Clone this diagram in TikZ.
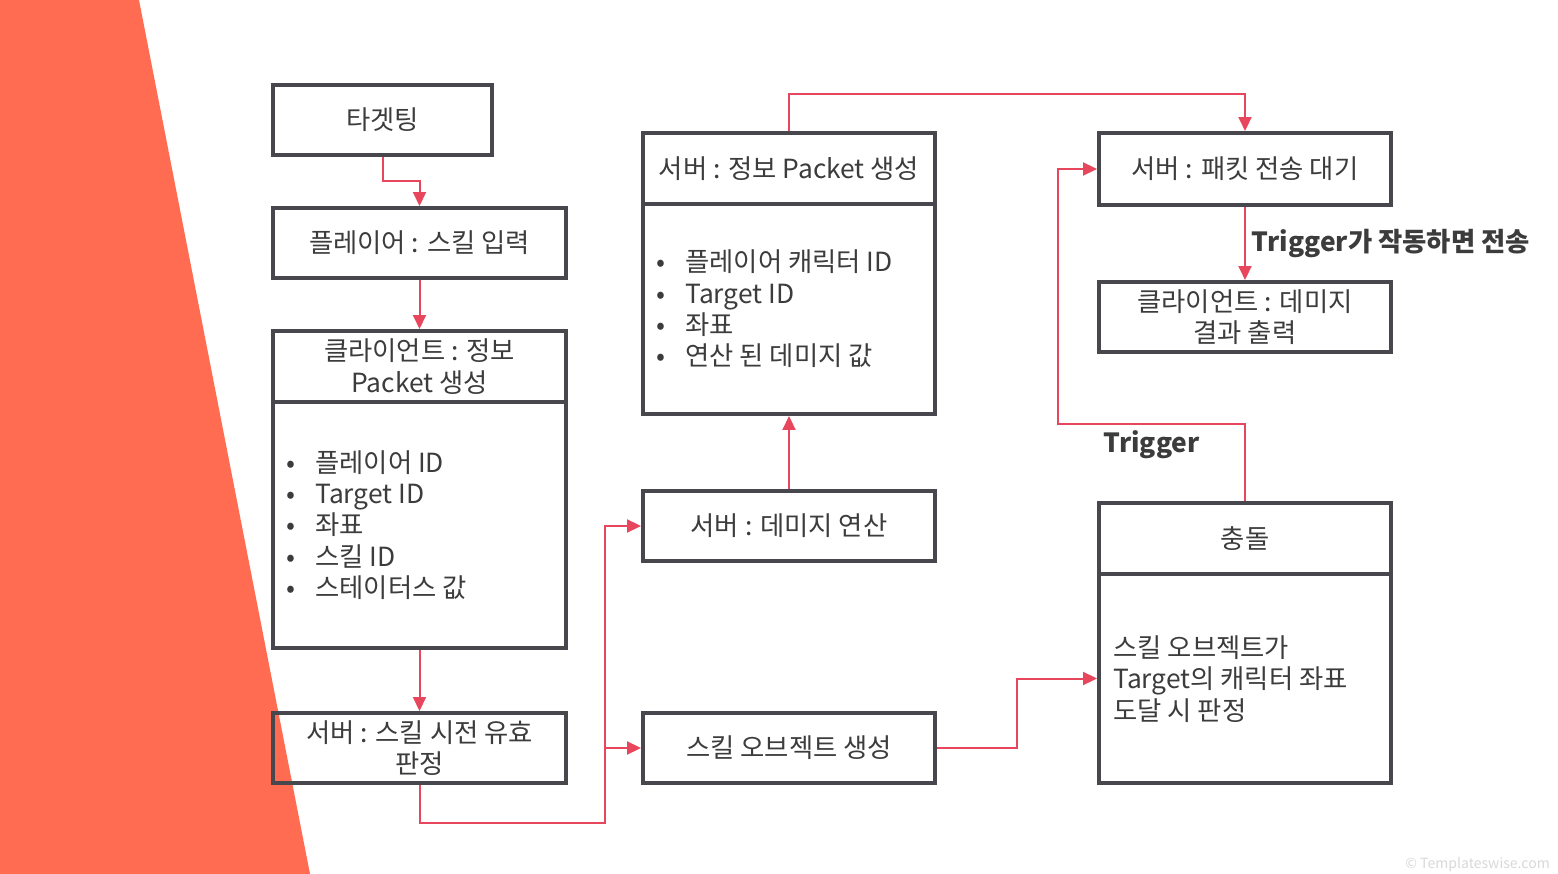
\documentclass[tikz,border=0pt]{standalone}
\usepackage{fontspec}
\setmainfont{Noto Sans CJK KR}
\usetikzlibrary{arrows.meta,positioning}

\definecolor{slideorange}{HTML}{FF6C52}
\definecolor{flowred}{HTML}{E8465C}
\definecolor{boxgray}{HTML}{47474D}
\definecolor{inkgray}{HTML}{3C3C3C}

\newcommand{\bul}{\makebox[1.1em][l]{\textbullet}}

\begin{document}
\begin{tikzpicture}[
    x=0.02cm, y=-0.02cm,
    every node/.style={align=center, text=inkgray, font=\fontsize{15}{17.8}\selectfont}
]

% Define styles
\tikzstyle{block} = [rectangle, draw=boxgray, line width=0.08cm, inner sep=0pt,
    minimum width=5.86cm, minimum height=1.4cm]
\tikzstyle{line} = [draw=flowred, line width=0.04cm, -{Triangle[length=0.28cm,width=0.26cm]}]
\tikzstyle{bullets} = [align=left, inner sep=0pt, anchor=west]

% Slide background
\fill[white] (0,0) rectangle (1558,874);
\useasboundingbox (0,0) rectangle (1558,874);
\fill[slideorange] (0,0) -- (139,0) -- (310,874) -- (0,874) -- cycle;

% Left column
\node [block, minimum width=4.38cm] (target) at (382.5,120) {타겟팅};
\node [block] (player) at (419.5,243) {플레이어 : 스킬 입력};
\node [block, minimum height=1.42cm] (cliHead) at (419.5,366.5) {클라이언트 : 정보\\Packet 생성};
\node [block, minimum height=4.92cm] (cliBody) at (419.5,525) {};
\node [bullets] (cliList) at (286,525) {\bul 플레이어 ID\\ \bul Target ID\\ \bul 좌표\\ \bul 스킬 ID\\ \bul 스테이터스 값};
\node [block] (valid) at (419.5,748) {서버 : 스킬 시전 유효\\판정};

% Middle column
\node [block, minimum width=5.84cm, minimum height=1.42cm] (srvHead) at (789,168.5) {서버 : 정보 Packet 생성};
\node [block, minimum width=5.84cm, minimum height=4.2cm] (srvBody) at (789,309) {};
\node [bullets] (srvList) at (656,309) {\bul 플레이어 캐릭터 ID\\ \bul Target ID\\ \bul 좌표\\ \bul 연산 된 데미지 값};
\node [block, minimum width=5.84cm] (dmg) at (789,526) {서버 : 데미지 연산};
\node [block, minimum width=5.84cm] (obj) at (789,748) {스킬 오브젝트 생성};

% Right column
\node [block, minimum width=5.84cm, minimum height=1.44cm] (wait) at (1245,169) {서버 : 패킷 전송 대기};
\node [block, minimum width=5.84cm] (result) at (1245,317) {클라이언트 : 데미지\\결과 출력};
\node [block, minimum width=5.84cm, minimum height=1.42cm] (colHead) at (1245,538.5) {충돌};
\node [block, minimum width=5.84cm, minimum height=4.18cm] (colBody) at (1245,678.5) {};
\node [bullets] (colText) at (1113,679) {스킬 오브젝트가\\Target의 캐릭터 좌표\\도달 시 판정};

% Paths
\path [line] (target.south) -- ++(0,24) -| (player.north);
\path [line] (player) -- (cliHead);
\path [line] (cliBody) -- (valid);
\path [line] (valid.south) -- ++(0,38) -- ++(185,0) |- (dmg.west);
\path [line] (valid.south) -- ++(0,38) -- ++(185,0) |- (obj.west);
\path [line] (dmg) -- (srvBody);
\path [line] (srvHead.north) -- ++(0,-37) -| (wait.north);
\path [line] (wait) -- node[right, font=\bfseries\fontsize{15}{17.8}\selectfont] {Trigger가 작동하면 전송} (result);
\path [line] (colHead.north) -- ++(0,-77) -- node[below, font=\bfseries\fontsize{15}{17.8}\selectfont] {Trigger} ++(-187,0) |- (wait.west);
\path [line] (obj.east) -- ++(80,0) |- (colBody.west);

% Credit
\node [anchor=south east, text=gray!30, font=\fontsize{8}{9}\selectfont] (credit) at (1556,878) {© Templateswise.com};

\end{tikzpicture}
\end{document}
